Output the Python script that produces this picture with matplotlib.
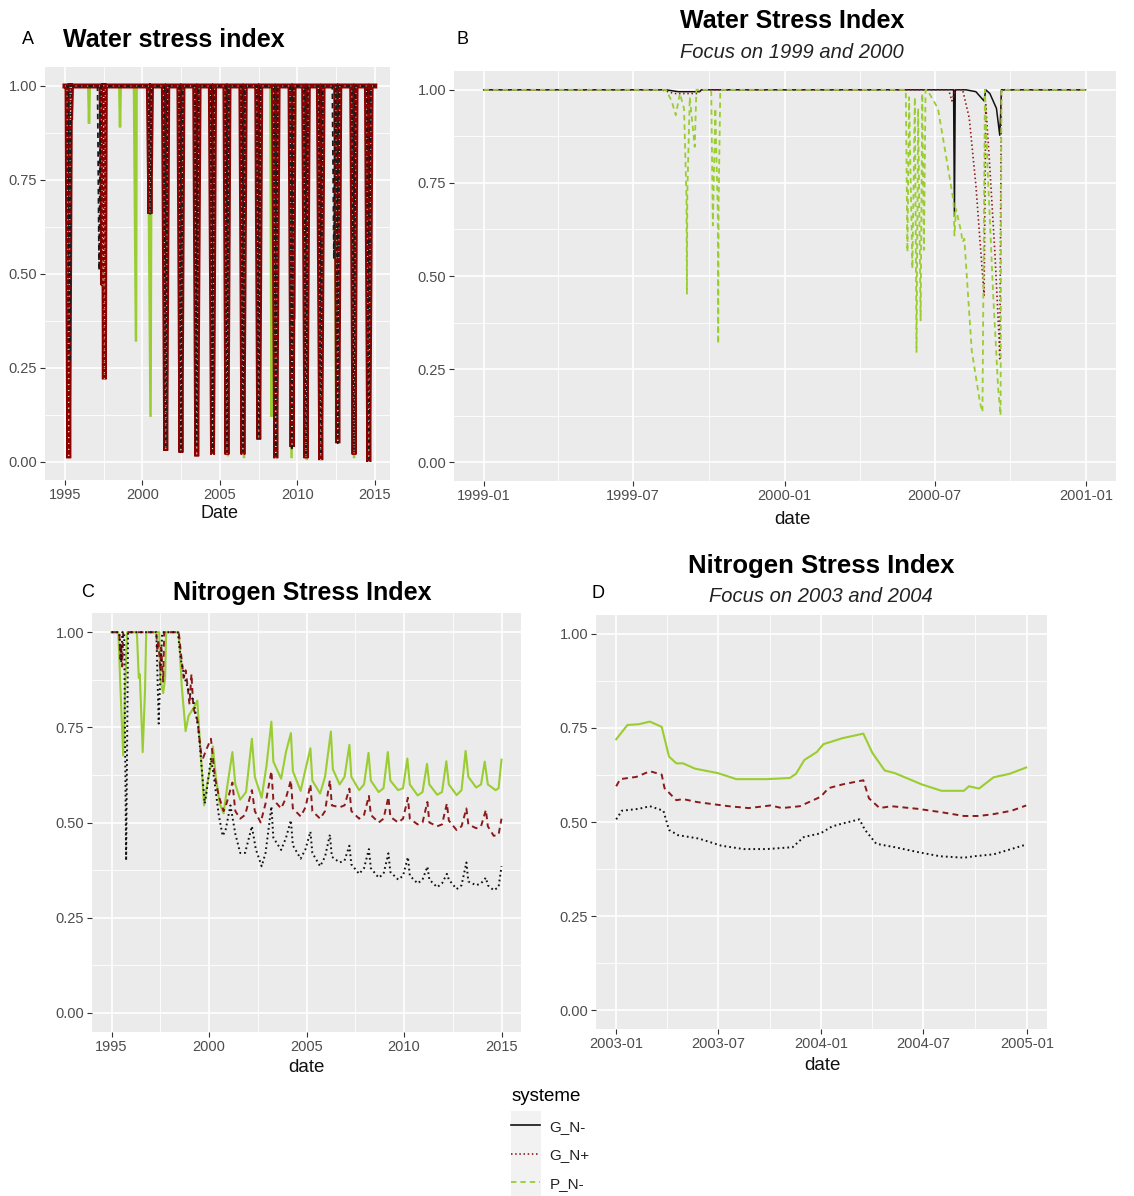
import numpy as np
import pandas as pd
import matplotlib
matplotlib.use("Agg")
import matplotlib.pyplot as plt
import matplotlib.dates as mdates
from matplotlib.lines import Line2D
from matplotlib.patches import Rectangle

plt.rcParams['font.family'] = ['Liberation Sans', 'DejaVu Sans']

# ---------------- colours / styles ----------------
COL_GNm = '#111111'   # G_N-
COL_GNp = '#8B1A1A'   # G_N+
COL_PNm = '#9ACD32'   # P_N-
SERIES = ['G_N-', 'G_N+', 'P_N-']

# ---------------- Panel A : water stress index (dips: start, bottom, end, min) -----
A_red_start  = [1995.13, 1995.33, 1997.33, 1997.48, 2000.38, 2001.35, 2002.35, 2003.37, 2004.38, 2005.32,
                2006.35, 2007.37, 2008.45, 2009.52, 2010.40, 2011.35, 2012.47, 2013.50, 2014.45]
A_red_bottom = [1995.24, 1995.36, 1997.45, 1997.54, 2000.48, 2001.50, 2002.48, 2003.50, 2004.52, 2005.45,
                2006.48, 2007.50, 2008.60, 2009.65, 2010.55, 2011.50, 2012.60, 2013.65, 2014.60]
A_red_end    = [1995.35, 1995.42, 1997.52, 1997.60, 2000.58, 2001.63, 2002.61, 2003.65, 2004.65, 2005.58,
                2006.63, 2007.63, 2008.75, 2009.78, 2010.70, 2011.65, 2012.73, 2013.78, 2014.75]
A_red_min    = [0.01, 0.91, 0.47, 0.22, 0.66, 0.03, 0.025, 0.015, 0.02, 0.02,
                0.02, 0.06, 0.01, 0.04, 0.01, 0.005, 0.05, 0.02, 0.0]

A_blk_start  = [1995.20, 1997.10, 2000.42, 2001.40, 2002.40, 2003.40, 2004.42, 2005.38, 2006.40, 2007.40,
                2008.50, 2009.55, 2010.45, 2011.40, 2012.25, 2012.52, 2013.55, 2014.50]
A_blk_bottom = [1995.30, 1997.20, 2000.50, 2001.50, 2002.50, 2003.48, 2004.52, 2005.47, 2006.50, 2007.50,
                2008.60, 2009.63, 2010.55, 2011.50, 2012.35, 2012.60, 2013.63, 2014.60]
A_blk_end    = [1995.38, 1997.30, 2000.58, 2001.60, 2002.58, 2003.58, 2004.60, 2005.55, 2006.58, 2007.58,
                2008.70, 2009.72, 2010.65, 2011.60, 2012.45, 2012.68, 2013.72, 2014.70]
A_blk_min    = [0.265, 0.51, 0.66, 0.04, 0.03, 0.045, 0.03, 0.03, 0.03, 0.06,
                0.02, 0.03, 0.02, 0.02, 0.54, 0.05, 0.03, 0.01]

A_grn_start  = [1996.50, 1998.50, 1999.45, 2000.35, 2001.35, 2002.35, 2003.40, 2004.45, 2005.40, 2006.45,
                2007.40, 2008.25, 2009.50, 2009.75, 2010.50, 2011.42, 2012.42, 2013.55, 2014.52]
A_grn_bottom = [1996.55, 1998.55, 1999.58, 2000.52, 2001.47, 2002.42, 2003.50, 2004.58, 2005.50, 2006.55,
                2007.45, 2008.33, 2009.62, 2009.80, 2010.60, 2011.50, 2012.50, 2013.65, 2014.62]
A_grn_end    = [1996.60, 1998.60, 1999.62, 2000.58, 2001.55, 2002.50, 2003.58, 2004.65, 2005.58, 2006.62,
                2007.50, 2008.40, 2009.70, 2009.85, 2010.68, 2011.58, 2012.58, 2013.72, 2014.70]
A_grn_min    = [0.90, 0.89, 0.32, 0.12, 0.05, 0.24, 0.05, 0.035, 0.015, 0.01,
                0.73, 0.12, 0.01, 0.38, 0.005, 0.05, 0.06, 0.01, 0.0]
A_first, A_last = 1995.0, 2014.99

# ---------------- Panel B : focus 1999-2000 ----------------
B_GNm_date = ['1999-01-01', '1999-08-10', '1999-08-25', '1999-09-20', '1999-09-22', '2000-07-24', '2000-07-25',
              '2000-07-26', '2000-08-08', '2000-08-20', '2000-08-30', '2000-09-01', '2000-09-06', '2000-09-14',
              '2000-09-18', '2000-09-19', '2000-09-20', '2000-12-31']
B_GNm_val  = [1.0, 1.0, 0.995, 0.995, 1.0, 1.0, 0.66,
              1.0, 1.0, 0.995, 0.97, 1.0, 0.99, 0.95,
              0.878, 0.93, 1.0, 1.0]
B_GNp_date = ['1999-01-01', '1999-08-05', '1999-08-20', '1999-09-18', '1999-09-20', '2000-07-18', '2000-07-22',
              '2000-07-26', '2000-08-04', '2000-08-12', '2000-08-20', '2000-08-26', '2000-08-30', '2000-09-01',
              '2000-09-06', '2000-09-12', '2000-09-17', '2000-09-18', '2000-09-20', '2000-12-31']
B_GNp_val  = [1.0, 1.0, 0.99, 0.99, 1.0, 1.0, 0.97,
              1.0, 1.0, 0.924, 0.745, 0.566, 0.448, 0.96,
              0.79, 0.566, 0.342, 0.278, 1.0, 1.0]
B_PNm_date = ['1999-01-01', '1999-08-10', '1999-08-17', '1999-08-22', '1999-08-27', '1999-09-01', '1999-09-04',
              '1999-09-04T12:00', '1999-09-05', '1999-09-08', '1999-09-14', '1999-09-16', '1999-10-04',
              '1999-10-06', '1999-10-09', '1999-10-12', '1999-10-12T12:00', '1999-10-13', '1999-10-15',
              '2000-05-27', '2000-05-29', '2000-05-31', '2000-06-04', '2000-06-07', '2000-06-09', '2000-06-11',
              '2000-06-14', '2000-06-16', '2000-06-18', '2000-06-20', '2000-06-22', '2000-07-05', '2000-07-15',
              '2000-07-24', '2000-07-25', '2000-07-27', '2000-08-02', '2000-08-04', '2000-08-06', '2000-08-15',
              '2000-08-25', '2000-08-28', '2000-08-31', '2000-09-03', '2000-09-10', '2000-09-16', '2000-09-19',
              '2000-09-20', '2000-12-31']
B_PNm_val  = [1.0, 1.0, 0.97, 0.932, 0.99, 0.95, 0.71,
              0.4526, 0.72, 0.98, 0.847, 1.0, 1.0,
              0.636, 0.95, 0.663, 0.318, 0.70, 1.0,
              1.0, 0.565, 0.98, 0.52, 0.98, 0.296, 0.95,
              0.381, 0.99, 0.57, 1.0, 1.0, 0.95, 0.82,
              0.70, 0.609, 0.68, 0.62, 0.591, 0.60, 0.30,
              0.16, 0.135, 1.0, 0.80, 0.45, 0.20, 0.126,
              1.0, 1.0]

# ---------------- Panel C : nitrogen stress index 1995-2015 ----------------
C_GNm_year = [1995.0, 1995.4, 1995.5, 1995.55, 1995.65, 1995.75, 1995.85, 1997.3, 1997.42, 1997.48, 1997.6,
              1998.4, 1998.55, 1998.75, 1999.0, 1999.2, 1999.45, 1999.6, 1999.78, 1999.85, 2000.1, 2000.25,
              2000.5, 2000.7, 2000.85, 2001.1, 2001.35, 2001.6, 2001.85, 2002.2, 2002.4, 2002.7, 2002.9,
              2003.2, 2003.3, 2003.7, 2003.95, 2004.2, 2004.3, 2004.7, 2004.95, 2005.2, 2005.3, 2005.7, 2005.95,
              2006.2, 2006.3, 2006.7, 2006.95, 2007.2, 2007.3, 2007.7, 2007.95, 2008.2, 2008.3, 2008.7, 2008.95,
              2009.2, 2009.3, 2009.7, 2009.95, 2010.2, 2010.3, 2010.7, 2010.95, 2011.2, 2011.3, 2011.7, 2011.95,
              2012.2, 2012.3, 2012.7, 2012.95, 2013.2, 2013.3, 2013.7, 2013.95, 2014.2, 2014.3, 2014.6, 2014.85,
              2015.0]
C_GNm_val  = [1.0, 1.0, 0.92, 1.0, 1.0, 0.40, 1.0, 1.0, 0.76, 0.85, 1.0,
              1.0, 0.93, 0.88, 0.84, 0.82, 0.75, 0.66, 0.55, 0.57, 0.67, 0.62,
              0.52, 0.465, 0.48, 0.545, 0.47, 0.42, 0.42, 0.49, 0.43, 0.385, 0.42,
              0.542, 0.46, 0.428, 0.46, 0.506, 0.44, 0.405, 0.43, 0.476, 0.42, 0.385, 0.41,
              0.468, 0.41, 0.395, 0.40, 0.439, 0.39, 0.365, 0.38, 0.43, 0.38, 0.355, 0.365,
              0.419, 0.37, 0.35, 0.36, 0.409, 0.36, 0.34, 0.35, 0.384, 0.35, 0.33, 0.34,
              0.365, 0.35, 0.325, 0.335, 0.395, 0.345, 0.335, 0.34, 0.355, 0.335, 0.322, 0.33,
              0.385]
C_GNp_year = [1995.0, 1995.4, 1995.45, 1995.5, 1995.55, 1995.6, 1997.3, 1997.35, 1997.4, 1997.5, 1997.55,
              1997.65, 1997.7, 1998.45, 1998.55, 1998.7, 1998.8, 1998.9, 1999.0, 1999.1, 1999.2, 1999.4,
              1999.6, 1999.7, 1999.85, 2000.1, 2000.3, 2000.5, 2000.75, 2000.9, 2001.2, 2001.35, 2001.6,
              2001.85, 2002.2, 2002.35, 2002.65, 2002.9, 2003.2, 2003.3, 2003.7, 2003.95, 2004.2, 2004.3,
              2004.7, 2004.95, 2005.2, 2005.3, 2005.7, 2005.95, 2006.2, 2006.3, 2006.7, 2006.95, 2007.2,
              2007.3, 2007.7, 2007.95, 2008.2, 2008.3, 2008.7, 2008.95, 2009.2, 2009.3, 2009.7, 2009.95,
              2010.2, 2010.3, 2010.7, 2010.95, 2011.2, 2011.3, 2011.7, 2011.95, 2012.2, 2012.3, 2012.7,
              2012.95, 2013.2, 2013.3, 2013.7, 2013.95, 2014.2, 2014.3, 2014.6, 2014.85, 2015.0]
C_GNp_val  = [1.0, 1.0, 0.93, 0.97, 0.91, 1.0, 1.0, 0.95, 0.98, 0.90, 0.96,
              0.87, 1.0, 1.0, 0.95, 0.88, 0.90, 0.86, 0.81, 0.89, 0.80, 0.77,
              0.68, 0.67, 0.69, 0.72, 0.62, 0.57, 0.53, 0.55, 0.605, 0.53, 0.51,
              0.52, 0.585, 0.53, 0.50, 0.55, 0.635, 0.56, 0.537, 0.565, 0.611, 0.537,
              0.516, 0.54, 0.60, 0.53, 0.51, 0.53, 0.611, 0.545, 0.54, 0.545, 0.589,
              0.53, 0.51, 0.52, 0.57, 0.52, 0.50, 0.51, 0.567, 0.515, 0.50, 0.51,
              0.565, 0.51, 0.495, 0.50, 0.554, 0.50, 0.49, 0.495, 0.55, 0.505, 0.48,
              0.49, 0.537, 0.495, 0.485, 0.49, 0.533, 0.49, 0.465, 0.468, 0.51]
C_PNm_year = [1995.0, 1995.35, 1995.5, 1995.6, 1995.7, 1995.8, 1996.3, 1996.4, 1996.45, 1996.6, 1996.72,
              1996.78, 1997.45, 1997.5, 1997.65, 1997.75, 1997.8, 1998.45, 1998.6, 1998.8, 1998.95, 1999.2,
              1999.4, 1999.55, 1999.75, 1999.9, 2000.1, 2000.2, 2000.35, 2000.55, 2000.75, 2000.95, 2001.2,
              2001.35, 2001.6, 2001.9, 2002.2, 2002.35, 2002.7, 2002.95, 2003.2, 2003.3, 2003.7, 2003.95,
              2004.2, 2004.3, 2004.7, 2004.95, 2005.2, 2005.3, 2005.7, 2005.95, 2006.25, 2006.35, 2006.7,
              2006.95, 2007.2, 2007.3, 2007.7, 2007.95, 2008.18, 2008.3, 2008.7, 2008.95, 2009.17, 2009.3,
              2009.7, 2009.95, 2010.17, 2010.3, 2010.7, 2010.95, 2011.18, 2011.3, 2011.7, 2011.95, 2012.17,
              2012.3, 2012.7, 2012.95, 2013.16, 2013.3, 2013.7, 2013.95, 2014.14, 2014.3, 2014.7, 2014.85,
              2015.0]
C_PNm_val  = [1.0, 1.0, 0.80, 0.676, 0.85, 1.0, 1.0, 0.88, 0.89, 0.685, 0.85,
              1.0, 1.0, 0.88, 0.84, 0.88, 1.0, 1.0, 0.86, 0.74, 0.78, 0.80,
              0.82, 0.70, 0.545, 0.60, 0.65, 0.70, 0.62, 0.55, 0.524, 0.60, 0.685,
              0.60, 0.56, 0.58, 0.72, 0.62, 0.565, 0.65, 0.765, 0.66, 0.615, 0.686,
              0.735, 0.635, 0.583, 0.64, 0.695, 0.61, 0.576, 0.62, 0.739, 0.64, 0.60,
              0.62, 0.704, 0.62, 0.585, 0.60, 0.683, 0.61, 0.58, 0.59, 0.685, 0.61,
              0.585, 0.59, 0.668, 0.60, 0.571, 0.58, 0.654, 0.60, 0.573, 0.58, 0.661,
              0.60, 0.572, 0.585, 0.688, 0.62, 0.592, 0.60, 0.66, 0.60, 0.585, 0.59,
              0.665]

# ---------------- Panel D : focus 2003-2004 ----------------
D_PNm_date = ['2003-01-01', '2003-01-21', '2003-02-10', '2003-03-02', '2003-03-23', '2003-04-05', '2003-04-18',
              '2003-04-30', '2003-05-21', '2003-07-01', '2003-08-03', '2003-09-26', '2003-11-06', '2003-11-17',
              '2003-12-02', '2003-12-24', '2004-01-05', '2004-02-08', '2004-03-16', '2004-04-01', '2004-04-23',
              '2004-05-11', '2004-06-28', '2004-08-02', '2004-09-11', '2004-09-20', '2004-10-08', '2004-11-03',
              '2004-12-01', '2004-12-31']
D_PNm_val  = [0.72, 0.758, 0.76, 0.767, 0.753, 0.674, 0.656,
              0.656, 0.642, 0.63, 0.614, 0.614, 0.617, 0.628,
              0.665, 0.686, 0.707, 0.723, 0.735, 0.684, 0.637,
              0.63, 0.60, 0.583, 0.583, 0.595, 0.589, 0.619,
              0.628, 0.645]
D_GNp_date = ['2003-01-01', '2003-01-08', '2003-02-06', '2003-03-02', '2003-03-23', '2003-03-28', '2003-04-18',
              '2003-04-30', '2003-05-25', '2003-07-20', '2003-08-25', '2003-10-03', '2003-10-23', '2003-11-24',
              '2003-12-31', '2004-01-14', '2004-02-08', '2004-03-16', '2004-03-26', '2004-04-14', '2004-05-05',
              '2004-06-21', '2004-08-02', '2004-09-11', '2004-10-08', '2004-11-03', '2004-12-05', '2004-12-31']
D_GNp_val  = [0.595, 0.614, 0.62, 0.635, 0.626, 0.59, 0.558,
              0.561, 0.553, 0.542, 0.537, 0.544, 0.537, 0.542,
              0.567, 0.59, 0.60, 0.611, 0.563, 0.537, 0.542,
              0.535, 0.526, 0.516, 0.516, 0.521, 0.53, 0.544]
D_GNm_date = ['2003-01-01', '2003-01-11', '2003-02-10', '2003-03-02', '2003-03-26', '2003-04-05', '2003-04-21',
              '2003-05-28', '2003-07-07', '2003-08-16', '2003-09-26', '2003-11-11', '2003-12-01', '2003-12-31',
              '2004-01-20', '2004-02-08', '2004-03-09', '2004-03-19', '2004-04-08', '2004-05-11', '2004-06-21',
              '2004-07-30', '2004-09-11', '2004-09-30', '2004-11-03', '2004-12-31']
D_GNm_val  = [0.507, 0.53, 0.535, 0.542, 0.53, 0.479, 0.465,
              0.456, 0.437, 0.428, 0.428, 0.433, 0.46, 0.47,
              0.488, 0.496, 0.507, 0.479, 0.442, 0.433, 0.42,
              0.409, 0.405, 0.409, 0.414, 0.44]

Y_TICKS = [0.0, 0.25, 0.5, 0.75, 1.0]
Y_LABELS = ['0.00', '0.25', '0.50', '0.75', '1.00']
YEAR_TICKS = [1995, 2000, 2005, 2010, 2015]

# ---------------- figure ----------------
W, H = 1134, 1196
fig = plt.figure(figsize=(W / 100, H / 100), dpi=100)
fig.patch.set_facecolor('white')


def rect(l, t, r, b):
    return [l / W, 1 - b / H, (r - l) / W, (b - t) / H]


def fx(x):
    return x / W


def fy(y):
    return 1 - y / H


def to_dt(lst):
    return pd.to_datetime(lst, format='ISO8601')


DASHED = (0, (3.0, 2.2))
DOTTED = (0, (0.9, 1.6))


def style(ax, ylim):
    ax.set_facecolor('#EBEBEB')
    for s in ax.spines.values():
        s.set_visible(False)
    ax.set_ylim(*ylim)
    ax.set_yticks(Y_TICKS)
    ax.set_yticklabels(Y_LABELS)
    ax.set_yticks([0.125, 0.375, 0.625, 0.875], minor=True)
    ax.grid(True, which='major', color='white', lw=1.2)
    ax.grid(True, which='minor', color='white', lw=0.6)
    ax.set_axisbelow(True)
    ax.tick_params(which='major', length=3.5, width=0.8, color='#333333',
                   labelcolor='#4D4D4D', labelsize=10.5, pad=2)
    ax.tick_params(which='minor', length=0)


def dips(start, bottom, end, mins, first, last):
    xs, ys = [first], [1.0]
    for s, b, e, m in zip(start, bottom, end, mins):
        xs += [s, b, e]
        ys += [1.0, m, 1.0]
    xs.append(last)
    ys.append(1.0)
    return xs, ys


# ---- Panel A ----
axA = fig.add_axes(rect(45, 67, 390, 480))
style(axA, (-0.0479, 1.0505))
axA.set_xlim(1993.71, 2015.97)
axA.set_xticks(YEAR_TICKS)
axA.set_xticklabels([str(y) for y in YEAR_TICKS])
axA.set_xticks([1997.5, 2002.5, 2007.5, 2012.5], minor=True)
gx, gy = dips(A_grn_start, A_grn_bottom, A_grn_end, A_grn_min, A_first, A_last)
rx, ry = dips(A_red_start, A_red_bottom, A_red_end, A_red_min, A_first, A_last)
bx, by = dips(A_blk_start, A_blk_bottom, A_blk_end, A_blk_min, A_first, A_last)
axA.plot(gx, gy, color=COL_PNm, lw=1.8, solid_joinstyle='miter')
axA.plot(rx, ry, color='#8B0000', lw=3.6, solid_joinstyle='miter')
axA.plot(bx, by, color='#1a1a1a', lw=1.3, linestyle=DASHED)
axA.plot(rx, ry, color='#EED9B0', lw=0.8, linestyle=(0, (0.8, 4.5)))
fig.text(fx(28), fy(39), 'A', fontsize=13, ha='center', va='center')
fig.text(fx(63), fy(40), 'Water stress index', fontsize=18, fontweight='bold', ha='left', va='center')
fig.text(fx(219), fy(514), 'Date', fontsize=13, ha='center', va='center', color='#111111')

# ---- Panel B ----
axB = fig.add_axes(rect(454, 71, 1116, 481))
style(axB, (-0.0505, 1.0505))
axB.set_xlim(pd.Timestamp('1998-11-26'), pd.Timestamp('2001-02-06'))
axB.set_xticks(to_dt(['1999-01-01', '1999-07-01', '2000-01-01', '2000-07-01', '2001-01-01']))
axB.set_xticks(to_dt(['1999-04-01', '1999-10-01', '2000-04-01', '2000-10-01']), minor=True)
axB.xaxis.set_major_formatter(mdates.DateFormatter('%Y-%m'))
axB.plot(to_dt(B_GNm_date), B_GNm_val, color=COL_GNm, lw=1.1)
axB.plot(to_dt(B_GNp_date), B_GNp_val, color=COL_GNp, lw=1.2, linestyle=DOTTED)
axB.plot(to_dt(B_PNm_date), B_PNm_val, color=COL_PNm, lw=1.3, linestyle=DASHED)
fig.text(fx(462), fy(39), 'B', fontsize=13, ha='center', va='center')
fig.text(fx(792), fy(21), 'Water Stress Index', fontsize=18, fontweight='bold', ha='center', va='center')
fig.text(fx(792), fy(53), 'Focus on 1999 and 2000', fontsize=14.5, fontstyle='italic',
         ha='center', va='center', color='#222222')
fig.text(fx(792), fy(519), 'date', fontsize=13.5, ha='center', va='center', color='#111111')

# ---- Panel C ----
axC = fig.add_axes(rect(92, 613, 521, 1032))
style(axC, (-0.0505, 1.0505))
axC.set_xlim(1994.0, 2016.0)
axC.set_xticks(YEAR_TICKS)
axC.set_xticklabels([str(y) for y in YEAR_TICKS])
axC.set_xticks([1997.5, 2002.5, 2007.5, 2012.5], minor=True)
axC.plot(C_PNm_year, C_PNm_val, color=COL_PNm, lw=1.5)
axC.plot(C_GNp_year, C_GNp_val, color=COL_GNp, lw=1.4, linestyle=DASHED)
axC.plot(C_GNm_year, C_GNm_val, color=COL_GNm, lw=1.4, linestyle=DOTTED)
fig.text(fx(88), fy(593), 'C', fontsize=13, ha='center', va='center')
fig.text(fx(302), fy(593), 'Nitrogen Stress Index', fontsize=18, fontweight='bold', ha='center', va='center')
fig.text(fx(306), fy(1067), 'date', fontsize=13.5, ha='center', va='center', color='#111111')

# ---- Panel D ----
axD = fig.add_axes(rect(596, 615, 1047, 1029))
style(axD, (-0.0505, 1.0505))
axD.set_xlim(pd.Timestamp('2002-11-26'), pd.Timestamp('2005-02-06'))
axD.set_xticks(to_dt(['2003-01-01', '2003-07-01', '2004-01-01', '2004-07-01', '2005-01-01']))
axD.set_xticks(to_dt(['2003-04-01', '2003-10-01', '2004-04-01', '2004-10-01']), minor=True)
axD.xaxis.set_major_formatter(mdates.DateFormatter('%Y-%m'))
axD.plot(to_dt(D_PNm_date), D_PNm_val, color=COL_PNm, lw=1.5)
axD.plot(to_dt(D_GNp_date), D_GNp_val, color=COL_GNp, lw=1.4, linestyle=DASHED)
axD.plot(to_dt(D_GNm_date), D_GNm_val, color=COL_GNm, lw=1.4, linestyle=DOTTED)
fig.text(fx(598), fy(594), 'D', fontsize=13, ha='center', va='center')
fig.text(fx(821), fy(566), 'Nitrogen Stress Index', fontsize=18.5, fontweight='bold', ha='center', va='center')
fig.text(fx(821), fy(597), 'Focus on 2003 and 2004', fontsize=14.5, fontstyle='italic',
         ha='center', va='center', color='#222222')
fig.text(fx(822), fy(1066), 'date', fontsize=13.5, ha='center', va='center', color='#111111')

# ---- Legend ----
fig.add_artist(Rectangle((fx(511), fy(1196)), (541 - 511) / W, (1196 - 1111) / H,
                         transform=fig.transFigure, facecolor='#F2F2F2', edgecolor='none'))
handles = [Line2D([], [], color=COL_GNm, lw=1.2),
           Line2D([], [], color=COL_GNp, lw=1.2, linestyle=DOTTED),
           Line2D([], [], color=COL_PNm, lw=1.3, linestyle=DASHED)]
leg = fig.legend(handles, SERIES, loc='upper left', bbox_to_anchor=(fx(505), fy(1082)),
                 frameon=False, title='systeme', fontsize=11, title_fontsize=13.5,
                 handlelength=1.9, handletextpad=0.6, labelspacing=0.95, borderaxespad=0)
leg._legend_box.align = 'left'
for t in leg.get_texts():
    t.set_color('#222222')

fig.savefig('out.png', dpi=100, facecolor='white')
